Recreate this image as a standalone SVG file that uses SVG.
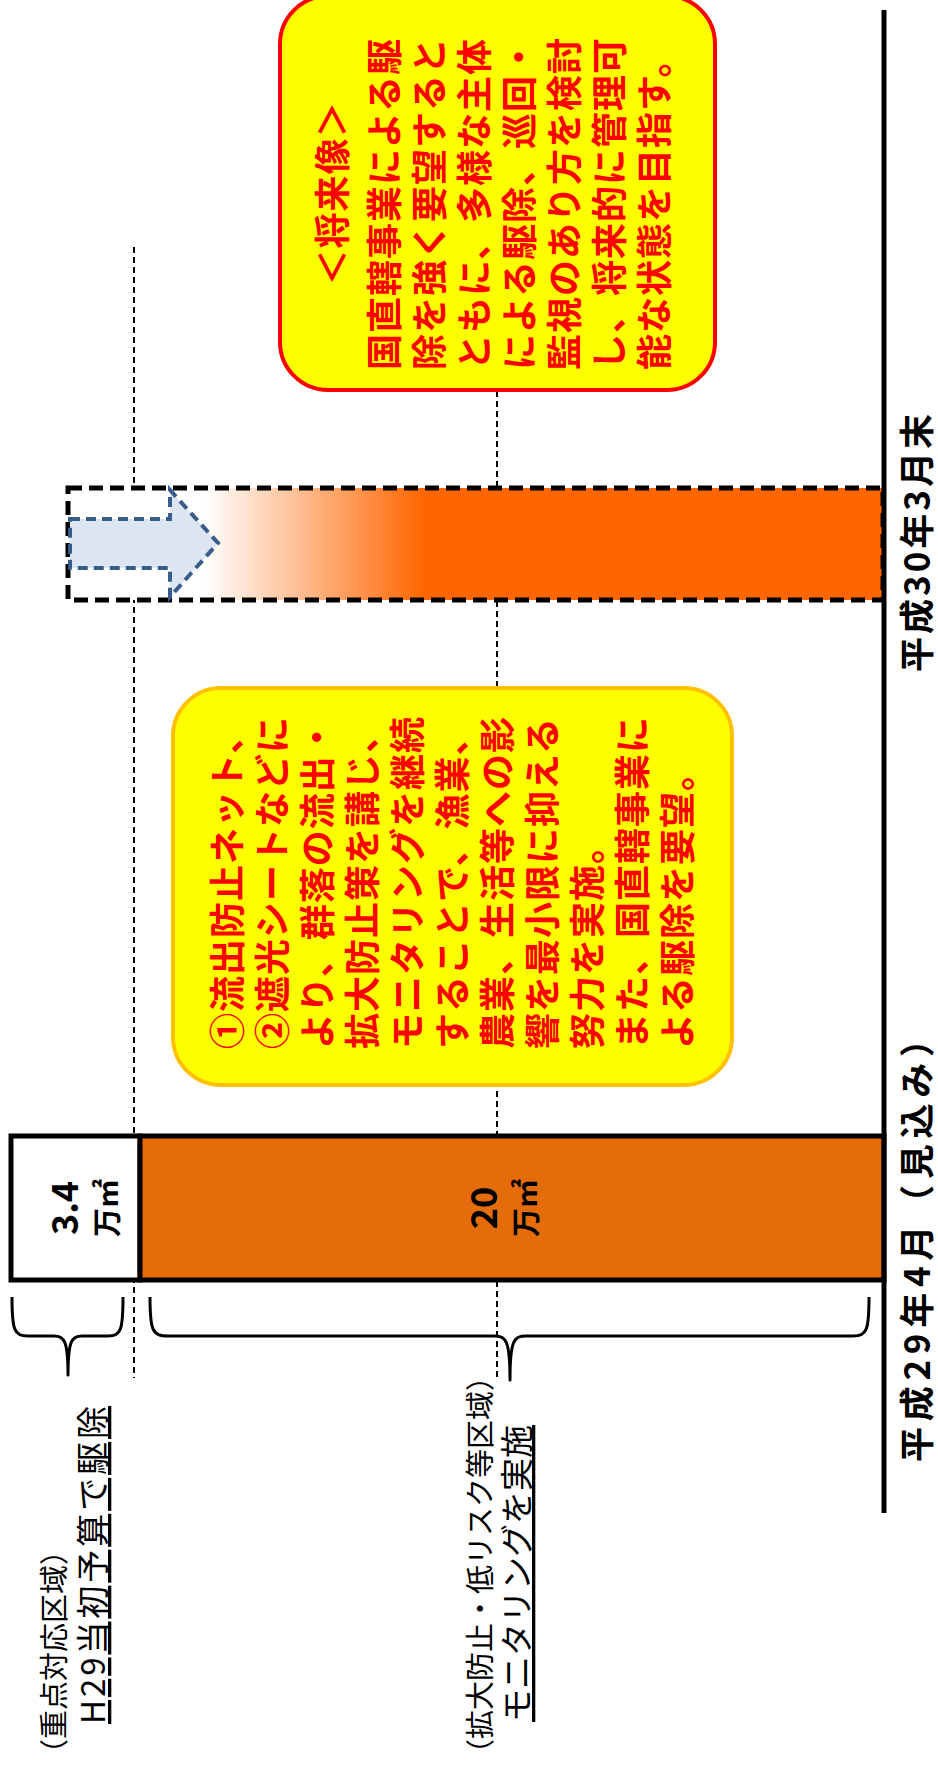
<svg xmlns="http://www.w3.org/2000/svg" width="938" height="1778" viewBox="0 0 938 1778">
<defs>
<linearGradient id="fade" gradientUnits="userSpaceOnUse" x1="205" y1="0" x2="425" y2="0">
<stop offset="0" stop-color="#FFFFFF"/>
<stop offset="1" stop-color="#FF6600"/>
</linearGradient>
<style>
text{font-family:"Noto Sans CJK JP","Noto Sans CJK SC",sans-serif;dominant-baseline:central}
.red{fill:#FF0000;font-size:36px;font-weight:700;letter-spacing:1px}
.guide{stroke:#000;stroke-width:2;stroke-dasharray:6 4;fill:none}
.brace{stroke:#000;stroke-width:3;fill:none;stroke-linejoin:round}
.lbl{fill:#000;font-size:29px}
.lbl2{fill:#000;font-size:33px;text-decoration:underline}
.axl{fill:#000;font-size:35px;font-weight:700}
.num{fill:#000;font-size:36px;font-weight:700}
.unit{fill:#000;font-size:29px;font-weight:700}
</style>
</defs>
<rect width="938" height="1778" fill="#FFFFFF"/>

<g id="connectors">
<line class="guide" x1="134" y1="247" x2="134" y2="1378"/>
<line class="guide" x1="497" y1="391" x2="497" y2="1378"/>
</g>

<g id="box-future-vision">
<rect x="280" y="-4" width="435" height="394" rx="48" fill="#FFFF00" stroke="#FF0000" stroke-width="4"/>
<text class="red" text-anchor="middle" transform="translate(330,193) rotate(-90)">＜将来像＞</text>
<text class="red" transform="translate(382,370) rotate(-90)">国直轄事業による駆</text>
<text class="red" transform="translate(427,370) rotate(-90)">除を強く要望すると</text>
<text class="red" transform="translate(472,370) rotate(-90)">ともに、多様な主体</text>
<text class="red" transform="translate(517,370) rotate(-90)">による駆除、巡回・</text>
<text class="red" transform="translate(562,370) rotate(-90)">監視のあり方を検討</text>
<text class="red" transform="translate(607,370) rotate(-90)">し、将来的に管理可</text>
<text class="red" transform="translate(652,370) rotate(-90)">能な状態を目指す。</text>
</g>

<g id="bar-h30">
<rect x="68" y="488" width="815" height="112" fill="url(#fade)" stroke="#000" stroke-width="5" stroke-dasharray="14 7"/>
<polygon points="70,519 170,519 170,490 218,543 170,597 170,568 70,568" fill="#DCE6F2" stroke="#385D8A" stroke-width="4" stroke-dasharray="10 6"/>
</g>

<g id="box-measures">
<rect x="173" y="688" width="559" height="397" rx="48" fill="#FFFF00" stroke="#FFC000" stroke-width="4"/>
<text class="red" transform="translate(225,1049) rotate(-90)">①流出防止ネット、</text>
<text class="red" transform="translate(270,1049) rotate(-90)">②遮光シートなどに</text>
<text class="red" transform="translate(315,1049) rotate(-90)">より、群落の流出・</text>
<text class="red" transform="translate(360,1049) rotate(-90)">拡大防止策を講じ、</text>
<text class="red" transform="translate(405,1049) rotate(-90)">モニタリングを継続</text>
<text class="red" transform="translate(450,1049) rotate(-90)">することで、漁業、</text>
<text class="red" transform="translate(495,1049) rotate(-90)">農業、生活等への影</text>
<text class="red" transform="translate(540,1049) rotate(-90)">響を最小限に抑える</text>
<text class="red" transform="translate(585,1049) rotate(-90)">努力を実施。</text>
<text class="red" transform="translate(630,1049) rotate(-90)">また、国直轄事業に</text>
<text class="red" transform="translate(675,1049) rotate(-90)">よる駆除を要望。</text>
</g>

<g id="bar-h29">
<rect x="11" y="1136" width="129" height="144" fill="#FFFFFF" stroke="#000" stroke-width="5"/>
<rect x="140" y="1136" width="744" height="144" fill="#E46C0A" stroke="#000" stroke-width="5"/>
<text class="num" text-anchor="middle" transform="translate(62,1208) rotate(-90)">3.4</text>
<text class="unit" text-anchor="middle" transform="translate(105,1208) rotate(-90)">万㎡</text>
<text class="num" text-anchor="middle" transform="translate(481,1208) rotate(-90)">20</text>
<text class="unit" text-anchor="middle" transform="translate(524,1208) rotate(-90)">万㎡</text>
</g>

<g id="axis">
<line x1="884" y1="10" x2="884" y2="1513" stroke="#000" stroke-width="5"/>
<text class="axl" transform="translate(914,672) rotate(-90)" textLength="258" lengthAdjust="spacing">平成30年3月末</text>
<text class="axl" transform="translate(914,1462) rotate(-90)" textLength="440" lengthAdjust="spacing">平成29年4月（見込み）</text>
</g>

<g id="brace-priority">
<path class="brace" d="M12,1297 C12,1330 14,1336 28,1336 L54,1336 C64,1336 68,1340 68,1375 C68,1340 72,1336 82,1336 L108,1336 C121,1336 123,1330 123,1297"/>
<text class="lbl" transform="translate(52,1768) rotate(-90)">（重点対応区域）</text>
<text class="lbl2" transform="translate(91,1724) rotate(-90)" textLength="318" lengthAdjust="spacing">H29当初予算で駆除</text>
</g>

<g id="brace-monitoring">
<path class="brace" d="M150,1297 C150,1330 152,1336 168,1336 L494,1336 C506,1336 510,1340 510,1380 C510,1340 514,1336 526,1336 L853,1336 C867,1336 869,1330 869,1297"/>
<text class="lbl" transform="translate(478,1768) rotate(-90)">（拡大防止・低リスク等区域）</text>
<text class="lbl2" transform="translate(515,1722) rotate(-90)">モニタリングを実施</text>
</g>
</svg>
